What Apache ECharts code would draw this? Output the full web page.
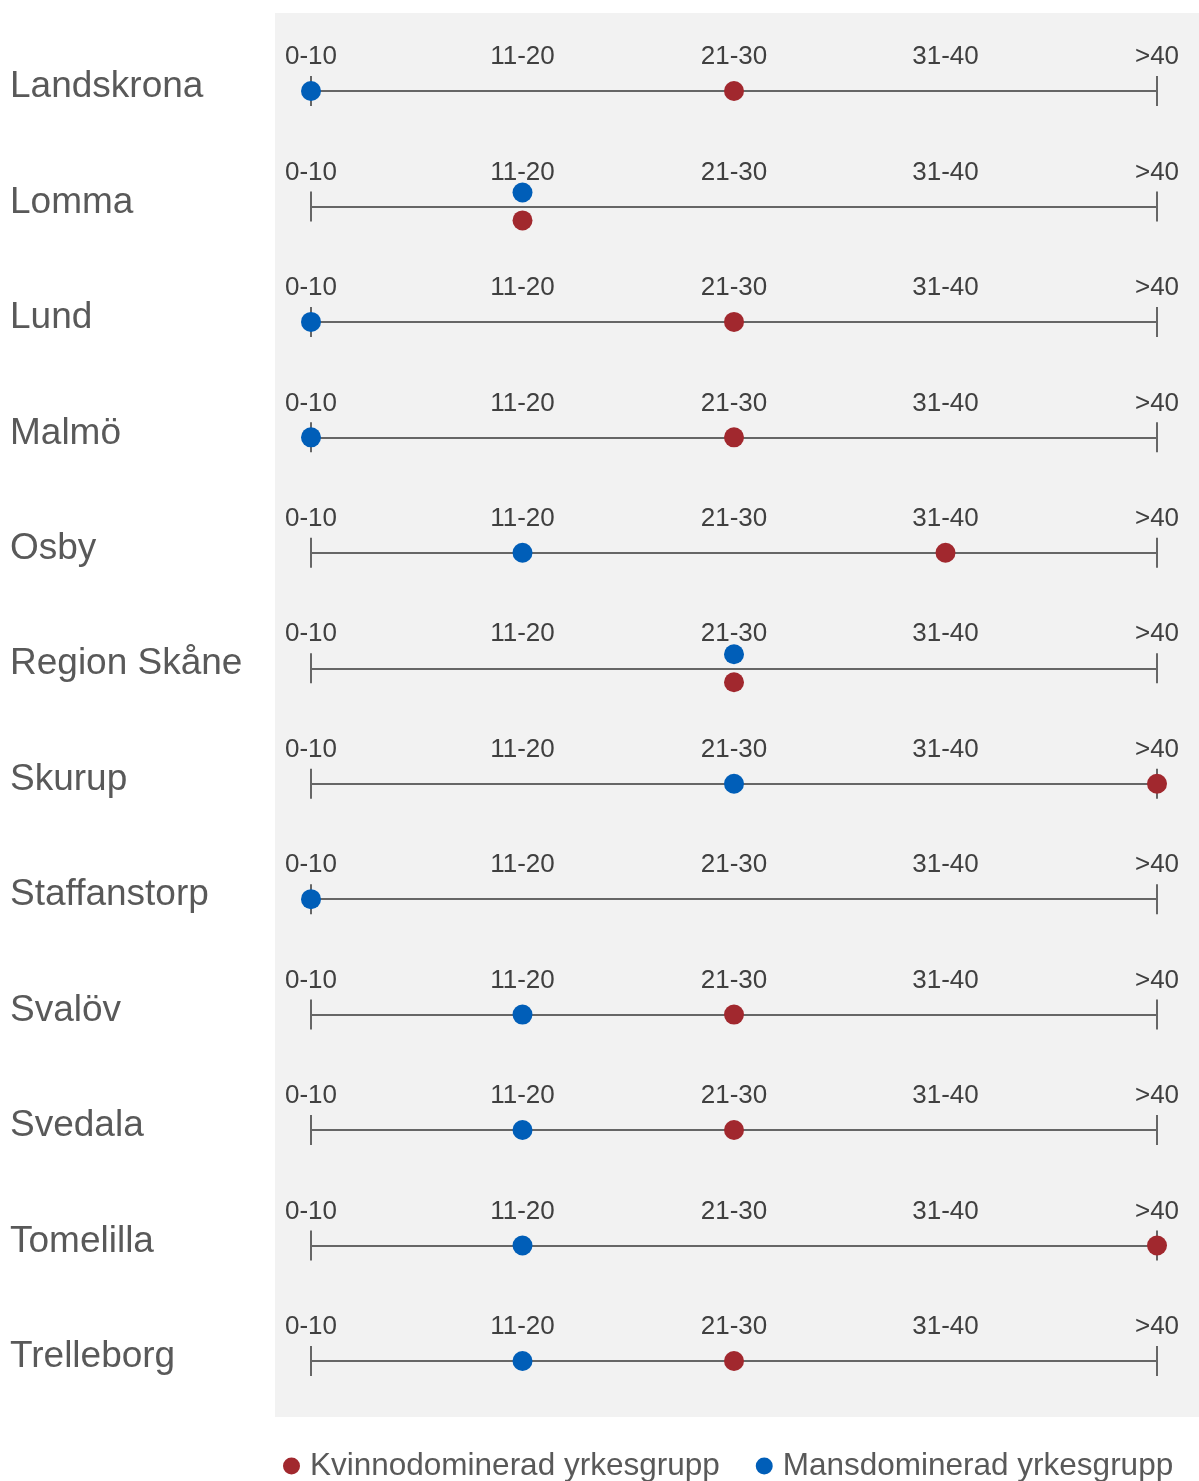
<!DOCTYPE html>
<html>
<head>
<meta charset="utf-8">
<script src="https://cdn.jsdelivr.net/npm/echarts@6/dist/echarts.min.js"></script>
<style>
html,body{margin:0;padding:0;background:#fff;}
#chart{width:1199px;height:1481px;}
</style>
</head>
<body>
<div id="chart"></div>
<script>
const rows = ['Landskrona','Lomma','Lund','Malmö','Osby','Region Skåne','Skurup','Staffanstorp','Svalöv','Svedala','Tomelilla','Trelleborg'];
const bands = ['0-10','11-20','21-30','31-40','>40'];
// index into bands for each row (null = no value)
const womenBand = [2,1,2,2,3,2,4,null,2,2,4,2];
const menBand   = [0,1,0,0,1,2,2,0,1,1,1,1];
const seriesNames = ['Kvinnodominerad yrkesgrupp','Mansdominerad yrkesgrupp'];

const RED = '#a1282e', BLUE = '#005eb8', AXIS = '#666666';
const FONT = "'Liberation Sans', Arial, sans-serif";
const rowY0 = 91, rowStep = 115.45;

const grids = [], xAxes = [], yAxes = [], series = [];
rows.forEach((r, i) => {
  const cy = rowY0 + i * rowStep;
  grids.push({left: 311, right: 42, top: cy - 15, height: 30});
  xAxes.push({
    gridIndex: i, type: 'category', data: bands, boundaryGap: false, position: 'bottom',
    axisLine: {onZero: true, lineStyle: {color: AXIS, width: 2}},
    axisTick: {show: false},
    axisLabel: {inside: true, margin: 36, interval: 0, fontSize: 26, color: '#404040', fontFamily: FONT},
    splitLine: {show: true, interval: (idx) => idx === 0 || idx === bands.length - 1,
                lineStyle: {color: AXIS, width: 2}}
  });
  yAxes.push({gridIndex: i, type: 'value', min: -1, max: 1, show: false});
  const same = womenBand[i] !== null && womenBand[i] === menBand[i];
  series.push({
    name: seriesNames[0], type: 'scatter', xAxisIndex: i, yAxisIndex: i, clip: false,
    symbolSize: 20, itemStyle: {color: RED, opacity: 1},
    data: womenBand[i] === null ? [] : [[womenBand[i], same ? -0.93 : 0]]
  });
  series.push({
    name: seriesNames[1], type: 'scatter', xAxisIndex: i, yAxisIndex: i, clip: false,
    symbolSize: 20, itemStyle: {color: BLUE, opacity: 1},
    data: menBand[i] === null ? [] : [[menBand[i], same ? 0.93 : 0]]
  });
});

// row label axis
const L = rows.length;
grids.push({left: 275, right: 0, top: rowY0 - rowStep / 2 - 4, height: rowStep * L});
xAxes.push({gridIndex: L, type: 'value', show: false});
yAxes.push({
  gridIndex: L, type: 'category', data: rows, inverse: true,
  axisLine: {show: false}, axisTick: {show: false}, splitLine: {show: false},
  axisLabel: {margin: 265, align: 'left', fontSize: 37, color: '#595959', fontFamily: FONT, interval: 0}
});

const chart = echarts.init(document.getElementById('chart'), null, {renderer: 'canvas'});
chart.setOption({
  animation: false,
  backgroundColor: '#ffffff',
  textStyle: {fontFamily: FONT},
  graphic: [{type: 'rect', z: -10, silent: true, shape: {x: 275, y: 13, width: 924, height: 1404}, style: {fill: '#f2f2f2'}}],
  legend: {
    data: seriesNames, left: 283, top: 1450, icon: 'circle', itemWidth: 17, itemHeight: 17, itemGap: 36,
    padding: 0,
    textStyle: {fontSize: 31.5, color: '#595959', fontFamily: FONT, padding: [0, 0, 0, 5]}
  },
  grid: grids, xAxis: xAxes, yAxis: yAxes, series: series
});
</script>
</body>
</html>
